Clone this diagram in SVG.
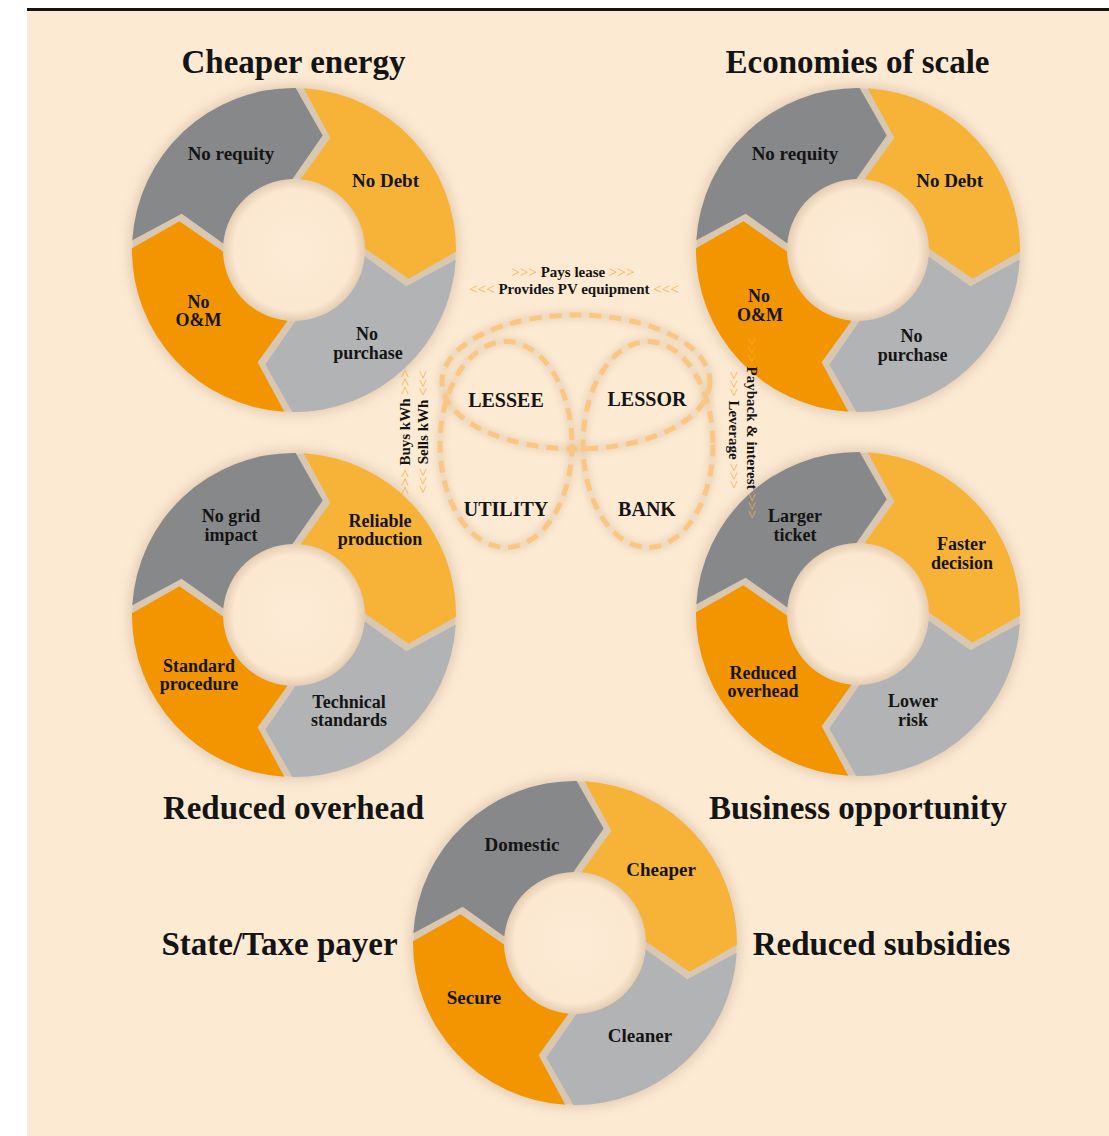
<svg xmlns="http://www.w3.org/2000/svg" xmlns:xlink="http://www.w3.org/1999/xlink" width="1109" height="1136" viewBox="0 0 1109 1136">
<defs>
<style>
 .t { font-family: "Liberation Serif", "Times New Roman", serif; font-weight: bold; fill: #141414; text-anchor: middle; }
 .title { font-size: 33px; }
 .lbl { font-size: 19px; }
 .lbl2 { font-size: 18px; }
 .party { font-size: 20px; }
 .flow { font-size: 15px; }
 .chev { fill: #f5ad35; font-weight: normal; }
 .dk { fill: #87888a; }
 .yl { fill: #f7b337; }
 .lg { fill: #b2b3b5; }
 .or { fill: #f39501; }
 .ell { fill: none; stroke: #fac682; stroke-width: 5; stroke-dasharray: 12 8; }
 .ellsh { fill: none; stroke: #dcc4a6; stroke-width: 10; opacity: 0.45; }
</style>
<filter id="soft" x="-20%" y="-20%" width="140%" height="140%"><feGaussianBlur stdDeviation="6"/></filter>
<filter id="soft2" x="-20%" y="-20%" width="140%" height="140%"><feGaussianBlur stdDeviation="3"/></filter>
<radialGradient id="hole" cx="0.5" cy="0.5" r="0.5">
 <stop offset="0" stop-color="#fdebd5"/>
 <stop offset="0.84" stop-color="#fce8d1"/>
 <stop offset="1" stop-color="#e2cbb0"/>
</radialGradient>
<path id="seg" d="M4,-161.95 A162,162 0 0 1 161.95,-4 L115.47,24.67 L70.89,-4 A71,71 0 0 0 4,-70.89 L32.43,-113.53 Z"/>
<g id="ringbase">
 <circle r="165" fill="#b59b80" opacity="0.4" filter="url(#soft)"/>
 <circle r="116.5" fill="none" stroke="#d8c7b3" stroke-width="90"/>
 <circle r="71.5" fill="url(#hole)"/>
</g>
<g id="segs">
 <use xlink:href="#seg" class="dk" transform="rotate(272)"/>
 <use xlink:href="#seg" class="yl" transform="rotate(2)"/>
 <use xlink:href="#seg" class="lg" transform="rotate(92)"/>
 <use xlink:href="#seg" class="or" transform="rotate(182)"/>
</g>
</defs>

<rect x="0" y="0" width="1109" height="1136" fill="#ffffff"/>
<rect x="27" y="10" width="1082" height="1126" fill="#fdead3"/>
<rect x="27" y="8" width="1082" height="3" fill="#141414"/>

<g id="cheaper-energy">
 <g transform="translate(294,250)"><use xlink:href="#ringbase"/><use xlink:href="#segs"/></g>
 <text class="t title" x="293.5" y="73">Cheaper energy</text>
 <text class="t lbl" x="231" y="160">No requity</text>
 <text class="t lbl" x="385.5" y="187">No Debt</text>
 <text class="t lbl2" x="198.5" y="307.75">No<tspan x="198.5" dy="18.5">O&amp;M</tspan></text>
 <text class="t lbl2" x="367" y="340">No<tspan x="368" dy="18.5">purchase</tspan></text>
</g>

<g id="economies-of-scale">
 <g transform="translate(858,250)"><use xlink:href="#ringbase"/><use xlink:href="#segs"/></g>
 <text class="t title" x="857.5" y="73">Economies of scale</text>
 <text class="t lbl" x="795" y="160">No requity</text>
 <text class="t lbl" x="949.7" y="187">No Debt</text>
 <text class="t lbl2" x="759" y="302.25">No<tspan x="760" dy="18.5">O&amp;M</tspan></text>
 <text class="t lbl2" x="911.5" y="342.25">No<tspan x="912.7" dy="18.5">purchase</tspan></text>
</g>

<g id="reduced-overhead">
 <g transform="translate(294,615)"><use xlink:href="#ringbase"/><use xlink:href="#segs"/></g>
 <text class="t title" x="293.5" y="819">Reduced overhead</text>
 <text class="t lbl2" x="231" y="522.25">No grid<tspan x="231" dy="18.5">impact</tspan></text>
 <text class="t lbl2" x="380" y="526.75">Reliable<tspan x="380" dy="18.5">production</tspan></text>
 <text class="t lbl2" x="199" y="671.5">Standard<tspan x="199" dy="18.5">procedure</tspan></text>
 <text class="t lbl2" x="349" y="707.75">Technical<tspan x="349" dy="18.5">standards</tspan></text>
</g>

<g id="business-opportunity">
 <g transform="translate(858,614)"><use xlink:href="#ringbase"/><use xlink:href="#segs"/></g>
 <text class="t title" x="858" y="819">Business opportunity</text>
 <text class="t lbl2" x="795" y="522.25">Larger<tspan x="795" dy="18.5">ticket</tspan></text>
 <text class="t lbl2" x="961.5" y="550.25">Faster<tspan x="962" dy="18.5">decision</tspan></text>
 <text class="t lbl2" x="763" y="678.75">Reduced<tspan x="763" dy="18.5">overhead</tspan></text>
 <text class="t lbl2" x="913" y="707.25">Lower<tspan x="913" dy="18.5">risk</tspan></text>
</g>

<g id="state-taxpayer">
 <g transform="translate(575,943)"><use xlink:href="#ringbase"/><use xlink:href="#segs"/></g>
 <text class="t title" x="279.5" y="955">State/Taxe payer</text>
 <text class="t title" x="881.5" y="955">Reduced subsidies</text>
 <text class="t lbl" x="522" y="851">Domestic</text>
 <text class="t lbl" x="661" y="876">Cheaper</text>
 <text class="t lbl" x="474" y="1004">Secure</text>
 <text class="t lbl" x="640" y="1042">Cleaner</text>
</g>

<g id="connectors">
 <ellipse class="ellsh" cx="576" cy="382" rx="134" ry="67" filter="url(#soft2)"/>
 <ellipse class="ellsh" cx="506" cy="444.5" rx="66" ry="103" filter="url(#soft2)"/>
 <ellipse class="ellsh" cx="648" cy="444.5" rx="65" ry="103" filter="url(#soft2)"/>
 <ellipse class="ell" cx="576" cy="382" rx="134" ry="67"/>
 <ellipse class="ell" cx="506" cy="444.5" rx="66" ry="103"/>
 <ellipse class="ell" cx="648" cy="444.5" rx="65" ry="103"/>
 <text class="t flow" x="573" y="277"><tspan class="chev">&gt;&gt;&gt;</tspan> Pays lease <tspan class="chev">&gt;&gt;&gt;</tspan></text>
 <text class="t flow" x="574" y="294"><tspan class="chev">&lt;&lt;&lt;</tspan> Provides PV equipment <tspan class="chev">&lt;&lt;&lt;</tspan></text>
 <text class="t flow" transform="translate(410,432) rotate(-90)"><tspan class="chev">&gt;&gt;&gt;</tspan> Buys kWh <tspan class="chev">&gt;&gt;&gt;</tspan></text>
 <text class="t flow" transform="translate(428,432) rotate(-90)"><tspan class="chev">&lt;&lt;&lt;</tspan> Sells kWh <tspan class="chev">&lt;&lt;&lt;</tspan></text>
 <text class="t flow" transform="translate(747,428) rotate(90)"><tspan class="chev">&gt;&gt;&gt;</tspan> Payback &amp; interest <tspan class="chev">&gt;&gt;&gt;</tspan></text>
 <text class="t flow" transform="translate(729,430) rotate(90)"><tspan class="chev">&gt;&gt;&gt;</tspan> Leverage <tspan class="chev">&gt;&gt;&gt;</tspan></text>
</g>

<g id="lessee"><text class="t party" x="506" y="407">LESSEE</text></g>
<g id="lessor"><text class="t party" x="647" y="406">LESSOR</text></g>
<g id="utility"><text class="t party" x="506" y="516">UTILITY</text></g>
<g id="bank"><text class="t party" x="647" y="516">BANK</text></g>
</svg>
